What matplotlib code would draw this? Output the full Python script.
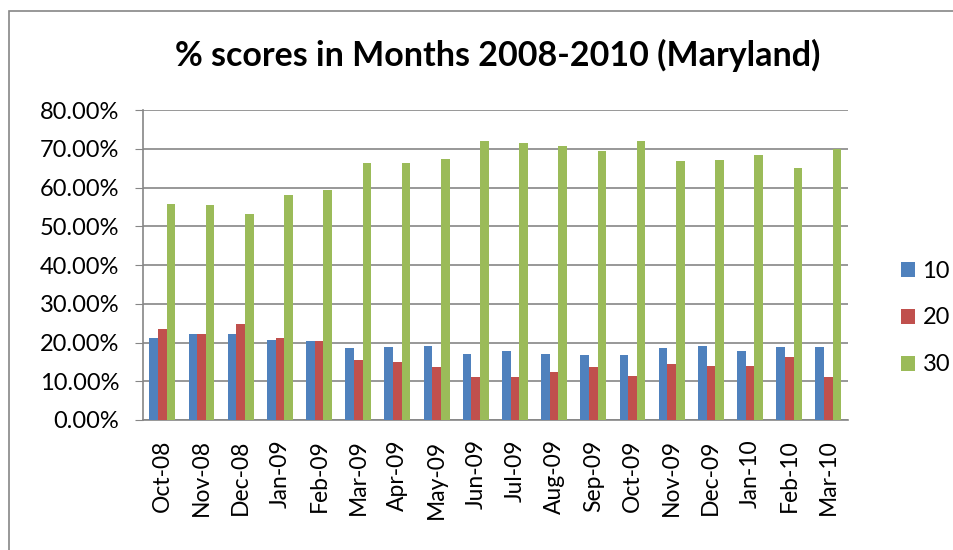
import numpy as np
import matplotlib.pyplot as plt
from matplotlib.patches import Rectangle
from matplotlib.ticker import PercentFormatter

plt.rcParams['font.family'] = ['Lato', 'DejaVu Sans']

# months on the x axis
months = ["Oct-08", "Nov-08", "Dec-08", "Jan-09", "Feb-09", "Mar-09", "Apr-09",
          "May-09", "Jun-09", "Jul-09", "Aug-09", "Sep-09", "Oct-09", "Nov-09",
          "Dec-09", "Jan-10", "Feb-10", "Mar-10"]

# percent scores
score_10 = [21.1, 22.3, 22.1, 20.7, 20.3, 18.5, 18.8, 19.0, 17.0, 17.7, 17.0,
            16.9, 16.7, 18.7, 19.1, 17.8, 18.9, 18.9]
score_20 = [23.4, 22.3, 24.7, 21.2, 20.3, 15.5, 15.0, 13.7, 11.1, 11.0, 12.5,
            13.8, 11.4, 14.5, 13.9, 14.0, 16.2, 11.2]
score_30 = [55.7, 55.5, 53.2, 58.1, 59.4, 66.2, 66.3, 67.4, 72.0, 71.4, 70.7,
            69.4, 72.0, 66.8, 67.2, 68.3, 65.0, 69.9]
series_names = ["10", "20", "30"]
colors = ["#4F81BD", "#C0504D", "#9BBB59"]

fig = plt.figure(figsize=(9.54, 5.5), dpi=100)
ax = fig.add_axes([142.7 / 954, 130 / 550, (848 - 142.7) / 954, 310 / 550])

x = np.arange(len(months))
w = 0.22
for i, (vals, name, c) in enumerate(zip([score_10, score_20, score_30], series_names, colors)):
    ax.bar(x + (i - 1) * w, vals, width=w, color=c, label=name, zorder=3)

ax.set_xlim(-0.5, len(months) - 0.5)
ax.set_ylim(0, 80)
ax.set_yticks(np.arange(0, 81, 10))
ax.yaxis.set_major_formatter(PercentFormatter(decimals=2))
ax.set_xticks(x)
ax.set_xticklabels(months, rotation=90)
ax.tick_params(axis='x', length=0, labelsize=16.5, pad=14)
ax.tick_params(axis='y', length=6, color="#868686", labelsize=17, pad=11)
ax.grid(axis='y', color="#868686", linewidth=1.2, zorder=0)
for side in ["top", "right"]:
    ax.spines[side].set_visible(False)
for side in ["left", "bottom"]:
    ax.spines[side].set_color("#868686")
    ax.spines[side].set_linewidth(1.2)

fig.text(498 / 954, 1 - 55 / 550, "% scores in Months 2008-2010 (Maryland)",
         ha="center", va="center", fontsize=24.5, fontweight="bold")

ax.legend(loc="center left", bbox_to_anchor=(880 / 954, 1 - 318 / 550),
          bbox_transform=fig.transFigure, frameon=False, fontsize=17,
          handlelength=0.6, handleheight=0.6, handletextpad=0.3, labelspacing=1.1)

# outer chart border
fig.patches.append(Rectangle((9 / 954, -0.1), 1.1, 1 - 11 / 550 + 0.1,
                             transform=fig.transFigure, fill=False,
                             edgecolor="#868686", linewidth=1.2))

fig.savefig("out.png", dpi=100)
